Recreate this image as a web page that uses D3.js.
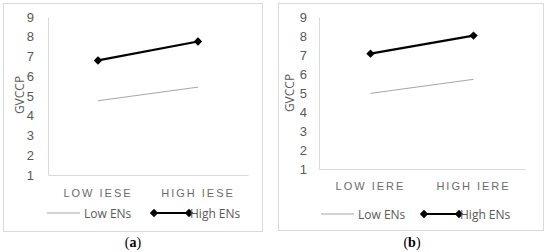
<!DOCTYPE html>
<html><head><meta charset="utf-8">
<script src="https://cdn.jsdelivr.net/npm/d3@7"></script>
<style>
body{margin:0;background:#fff;}
svg{display:block;font-family:"Open Sans","Liberation Sans",sans-serif;}
</style></head>
<body><svg id="c" width="550" height="252"></svg>
<script>
const yTicks = [1,2,3,4,5,6,7,8,9];
const categoriesA = ["LOW IESE","HIGH IESE"];
const categoriesB = ["LOW IERE","HIGH IERE"];
const lowENsA = [4.76, 5.45];
const highENsA = [6.8, 7.76];
const lowENsB = [4.98, 5.72];
const highENsB = [7.07, 8.02];
const seriesNames = ["Low ENs","High ENs"];
const yTitle = "GVCCP";
const panelLabels = ["a","b"];

const svg = d3.select("#c");

function panel(cfg){
  const g = svg.append("g");
  g.append("rect").attr("x",cfg.bx+0.5).attr("y",3.5).attr("width",cfg.bw).attr("height",cfg.bh)
    .attr("fill","#fff").attr("stroke","#d9d9d9");
  const x = d3.scaleBand().domain(cfg.cats).range([cfg.x0,cfg.x1]);
  const y = d3.scaleLinear().domain([1,9]).range([cfg.yb,cfg.yt]);
  // y axis
  const ya = g.append("g").attr("transform",`translate(${cfg.x0},0)`)
    .call(d3.axisLeft(y).tickValues(yTicks).tickSize(0).tickPadding(cfg.ypad).tickFormat(d3.format("d")));
  ya.select(".domain").attr("stroke","#d9d9d9");
  ya.selectAll("text").attr("fill","#595959").attr("font-size",13);
  // x axis
  const xa = g.append("g").attr("transform",`translate(0,${cfg.yb})`)
    .call(d3.axisBottom(x).tickSize(0).tickPadding(cfg.xpad));
  xa.select(".domain").attr("stroke","#d9d9d9");
  xa.selectAll("text").attr("fill","#6b6b6b").attr("font-size",11).attr("letter-spacing","2px");
  // title
  g.append("text").attr("transform",`translate(${cfg.tx},${cfg.ty}) rotate(-90)`)
    .attr("text-anchor","middle").attr("fill","#595959").attr("font-size",12).text(yTitle);
  const cx = d => x(d)+x.bandwidth()/2;
  const line = d3.line().x((d,i)=>cx(cfg.cats[i])).y(d=>y(d));
  g.append("path").datum(cfg.low).attr("d",line).attr("fill","none").attr("stroke","#a6a6a6").attr("stroke-width",1);
  g.append("path").datum(cfg.high).attr("d",line).attr("fill","none").attr("stroke","#000").attr("stroke-width",2.2);
  const diamond = d3.symbol().type(d3.symbolDiamond2).size(45);
  g.selectAll(".m").data(cfg.high).join("path").attr("d",diamond)
    .attr("transform",(d,i)=>`translate(${cx(cfg.cats[i])},${y(d)})`).attr("fill","#000");
  // legend
  const ly = cfg.ly;
  g.append("line").attr("x1",cfg.l1).attr("x2",cfg.l1+33).attr("y1",ly).attr("y2",ly).attr("stroke","#a6a6a6");
  g.append("text").attr("x",cfg.l1+37).attr("y",ly+4.5).attr("fill","#595959").attr("font-size",12).text(seriesNames[0]);
  g.append("line").attr("x1",cfg.l2).attr("x2",cfg.l2+35).attr("y1",ly).attr("y2",ly).attr("stroke","#000").attr("stroke-width",2);
  [cfg.l2,cfg.l2+35].forEach(px=>g.append("path").attr("d",diamond).attr("transform",`translate(${px},${ly})`));
  g.append("text").attr("x",cfg.l2+36).attr("y",ly+4.5).attr("fill","#595959").attr("font-size",12).text(seriesNames[1]);
  // panel label
  const t = g.append("text").attr("x",cfg.px).attr("y",247).attr("text-anchor","middle")
    .attr("font-family","'Liberation Serif','DejaVu Serif',serif").attr("font-size",14).attr("fill","#000");
  t.append("tspan").text("(");
  t.append("tspan").attr("font-weight","bold").text(cfg.label);
  t.append("tspan").text(")");
}

panel({bx:3,bw:259,bh:228,cats:categoriesA,low:lowENsA,high:highENsA,x0:48,x1:248,yb:175,yt:17,
  ypad:14,xpad:14,tx:24,ty:95,ly:213,l1:47,l2:154,px:133,label:panelLabels[0]});
panel({bx:278,bw:265,bh:227,cats:categoriesB,low:lowENsB,high:highENsB,x0:319,x1:525,yb:169,yt:17,
  ypad:12,xpad:13,tx:294,ty:93,ly:214,l1:321,l2:424,px:412,label:panelLabels[1]});
</script></body></html>
